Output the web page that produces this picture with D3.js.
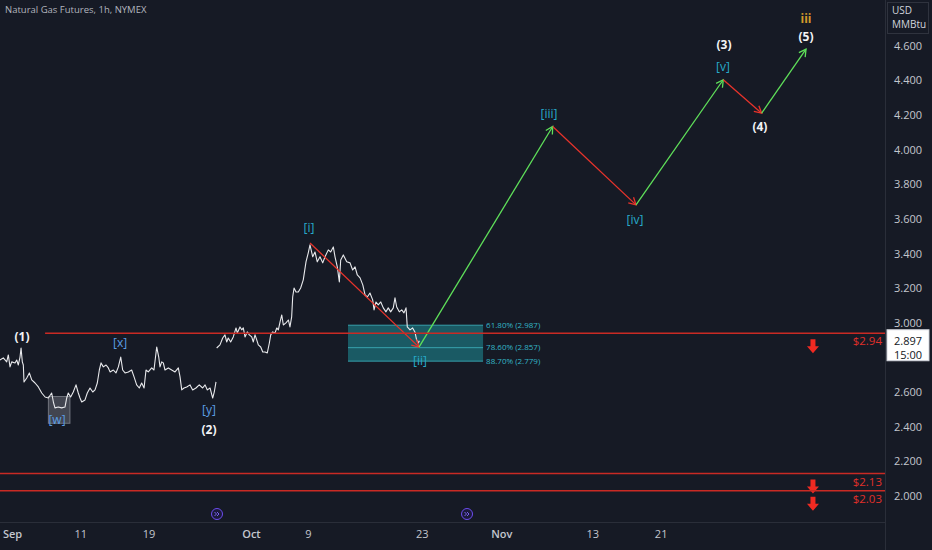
<!DOCTYPE html>
<html><head><meta charset="utf-8">
<script src="https://cdnjs.cloudflare.com/ajax/libs/d3/7.8.5/d3.min.js"></script>
<style>
html,body{margin:0;padding:0;background:#161a25;}
svg{display:block;}
text{font-family:"Open Sans","DejaVu Sans",sans-serif;}
</style></head>
<body>
<svg id="c" width="932" height="550"></svg>
<script>
// ---------- DATA ----------
const title = "Natural Gas Futures, 1h, NYMEX";
const tickDays = [0, 6, 12, 21, 26, 36, 43, 51, 57];
const tickLabels = ["Sep", "11", "19", "Oct", "9", "23", "Nov", "13", "21"];
const priceTicks = [2.0, 2.2, 2.4, 2.6, 2.8, 3.0, 3.2, 3.4, 3.6, 3.8, 4.0, 4.2, 4.4, 4.6];

// price line (trading-day index since Sep 1, price)
const seg1Days = [-1.10,-0.81,-0.51,-0.37,-0.22,-0.07,0.22,0.37,0.51,0.66,0.75,0.86,0.95,1.01,1.25,1.48,1.69,1.98,2.27,2.57,2.86,3.15,3.44,3.59,3.73,4.02,4.32,4.61,4.76,4.90,5.11,5.34,5.58,5.78,5.93,6.08,6.37,6.57,6.81,7.05,7.25,7.45,7.63,7.78,7.98,8.22,8.42,8.57,8.86,9.09,9.30,9.51,9.68,9.89,10.18,10.47,10.68,10.91,11.14,11.35,11.56,11.73,11.93,12.23,12.43,12.67,12.85,12.96,13.11,13.25,13.40,13.69,13.99,14.28,14.57,14.72,14.87,15.07,15.31,15.60,15.83,16.12,16.41,16.71,16.92,17.12,17.36,17.59,17.73,17.88];
const seg1Prices = [2.786,2.798,2.775,2.815,2.746,2.775,2.769,2.786,2.757,2.803,2.855,2.775,2.757,2.659,2.682,2.711,2.671,2.653,2.630,2.595,2.572,2.566,2.595,2.543,2.509,2.514,2.509,2.514,2.566,2.595,2.572,2.601,2.642,2.595,2.566,2.543,2.555,2.595,2.624,2.601,2.613,2.653,2.728,2.769,2.746,2.757,2.740,2.717,2.728,2.711,2.746,2.803,2.728,2.711,2.717,2.728,2.688,2.642,2.624,2.653,2.624,2.728,2.717,2.740,2.728,2.861,2.803,2.746,2.775,2.769,2.728,2.740,2.728,2.717,2.740,2.688,2.613,2.624,2.630,2.642,2.613,2.624,2.642,2.624,2.642,2.613,2.624,2.566,2.601,2.659];
const seg2Days = [17.94,18.23,18.47,18.67,18.82,18.96,19.17,19.40,19.64,19.75,19.99,20.14,20.28,20.43,20.63,20.81,21.02,21.16,21.31,21.46,21.60,21.81,21.99,22.19,22.39,22.57,22.69,22.86,23.07,23.22,23.36,23.51,23.66,23.80,24.03,24.24,24.38,24.53,24.62,24.74,24.91,25.11,25.32,25.55,25.79,25.99,26.14,26.38,26.58,26.78,27.02,27.26,27.46,27.75,27.96,28.19,28.34,28.54,28.72,28.84,29.07,29.37,29.66,29.89,30.10,30.30,30.54,30.78,30.98,31.18,31.41,31.65,31.77,31.94,32.14,32.36,32.58,32.82,33.02,33.23,33.46,33.61,33.76,33.99,34.20,34.40,34.58,34.69,34.93,35.16,35.36,35.51,35.66,35.75];
const seg2Prices = [2.855,2.873,2.913,2.931,2.890,2.913,2.890,2.919,2.971,2.942,2.977,2.960,2.971,2.919,2.948,2.931,2.919,2.890,2.931,2.902,2.873,2.861,2.832,2.832,2.827,2.884,2.931,2.948,2.942,2.971,2.960,3.006,3.046,2.988,3.000,3.017,2.977,3.035,3.150,3.202,3.179,3.179,3.202,3.249,3.353,3.405,3.451,3.382,3.410,3.353,3.382,3.347,3.382,3.422,3.410,3.439,3.382,3.324,3.237,3.364,3.393,3.353,3.347,3.306,3.324,3.277,3.260,3.220,3.162,3.150,3.173,3.133,3.075,3.121,3.104,3.121,3.087,3.064,3.087,3.064,3.087,3.145,3.092,3.064,3.075,3.058,3.087,2.977,2.960,2.971,2.948,2.902,2.884,2.897];
const lastPrice = "2.897";
const lastTime = "15:00";

// Elliott wave projection
const waveDays   = [26.14, 35.72, 47.47, 54.79, 62.46, 65.83, 69.73];
const wavePrices = [3.462, 2.860, 4.135, 3.682, 4.405, 4.212, 4.582];

// wave labels
const labelTexts  = ["(1)","[w]","[x]","[y]","(2)","[i]","[ii]","[iii]","[iv]","[v]","(3)","(4)","(5)","iii"];
const labelDays   = [0.83, 3.91, 9.45, 17.27, 17.27, 26.05, 35.81, 47.14, 54.70, 62.43, 62.52, 65.68, 69.73, 69.73];
const labelPrices = [2.919, 2.439, 2.884, 2.497, 2.382, 3.549, 2.780, 4.208, 3.595, 4.480, 4.607, 4.133, 4.653, 4.757];
const labelKinds  = ["major","minorB","minorB","minorB","major","minor","minor","minor","minor","minor","major","major","major","inter"];

// [w] box
const wBoxDays = [3.15, 5.05];
const wBoxPrices = [2.575, 2.42];

// Fibonacci retracement zone
const fibNames  = ["61.80%", "78.60%", "88.70%"];
const fibPrices = [2.987, 2.857, 2.779];
const fibDays   = [29.48, 41.35];

// support / resistance levels
const levelPrices = [2.94, 2.13, 2.03];
const levelStartDays = [2.86, -1.10, -1.10];
const levelLabels = ["$2.94", "$2.13", "$2.03"];
const arrowDay = 70.34;

// event icons on time axis
const eventDays = [17.97, 39.94];

// ---------- CHART ----------
const W = 932, H = 550;
const plotRight = 885, axisTop = 522;
const svg = d3.select("#c");
const x = d3.scaleLinear().domain([-1.10, 76.67]).range([0, plotRight]);
const y = d3.scaleLinear().domain([2.0, 4.6]).range([496, 46]);

svg.append("rect").attr("width", W).attr("height", H).attr("fill", "#161a25");

svg.append("clipPath").attr("id","plot").append("rect").attr("x",0).attr("y",0).attr("width",plotRight).attr("height",axisTop);

// axis separators
svg.append("line").attr("x1",0).attr("x2",plotRight).attr("y1",axisTop+0.5).attr("y2",axisTop+0.5).attr("stroke","#2a2e39");
svg.append("line").attr("x1",plotRight+0.5).attr("x2",plotRight+0.5).attr("y1",0).attr("y2",H).attr("stroke","#2a2e39");

const g = svg.append("g").attr("clip-path","url(#plot)");

// Fib zone
g.append("rect")
  .attr("x", x(fibDays[0])).attr("width", x(fibDays[1]) - x(fibDays[0]))
  .attr("y", y(fibPrices[0])).attr("height", y(fibPrices[2]) - y(fibPrices[0]))
  .attr("fill", "#1c6a74").attr("fill-opacity", 0.8);
g.selectAll(".fibl").data(fibPrices).join("line")
  .attr("x1", x(fibDays[0])).attr("x2", x(fibDays[1]))
  .attr("y1", d => y(d)).attr("y2", d => y(d))
  .attr("stroke", "#3fb7c2").attr("stroke-width", 1).attr("opacity", 0.8);
svg.selectAll(".fibt").data(fibPrices).join("text")
  .attr("x", x(fibDays[1]) + 3).attr("y", d => y(d))
  .attr("dy", "0.35em").attr("font-size", 8).attr("fill", "#34b6c6")
  .text((d, i) => `${fibNames[i]} (${d.toFixed(3)})`);

// [w] box
g.append("rect")
  .attr("x", x(wBoxDays[0])).attr("width", x(wBoxDays[1]) - x(wBoxDays[0]))
  .attr("y", y(wBoxPrices[0])).attr("height", y(wBoxPrices[1]) - y(wBoxPrices[0]))
  .attr("fill", "#9598a1").attr("fill-opacity", 0.35)
  .attr("stroke", "#b2b5be").attr("stroke-opacity", 0.5);

// levels
levelPrices.forEach((p, i) => {
  svg.append("line")
    .attr("x1", x(levelStartDays[i])).attr("x2", plotRight)
    .attr("y1", y(p)).attr("y2", y(p))
    .attr("stroke", "#c92a24").attr("stroke-width", 1.4);
  svg.append("text").attr("x", plotRight - 3).attr("y", y(p) + 12)
    .attr("text-anchor", "end").attr("font-size", 11.5).attr("fill", "#e0302a")
    .text(levelLabels[i]);
  const ax = x(arrowDay), ay = y(p) + 6;
  svg.append("path")
    .attr("d", `M${ax-2.5},${ay} h5 v7 h3.5 l-6,7 l-6,-7 h3.5 z`)
    .attr("fill", "#f02a22");
});

// price line
const line = d3.line().x(d => x(d[0])).y(d => y(d[1]));
[[seg1Days, seg1Prices], [seg2Days, seg2Prices]].forEach(([ds, ps]) => {
  g.append("path").datum(ds.map((d, i) => [d, ps[i]]))
    .attr("d", line).attr("fill", "none")
    .attr("stroke", "#e8e9ec").attr("stroke-width", 1.1).attr("stroke-linejoin", "round");
});

// wave arrows
function arrow(x1, y1, x2, y2, color) {
  g.append("line").attr("x1", x1).attr("y1", y1).attr("x2", x2).attr("y2", y2)
    .attr("stroke", color).attr("stroke-width", 1.3);
  const ang = Math.atan2(y2 - y1, x2 - x1), L = 8, a = 0.5;
  const p1 = [x2 - L*Math.cos(ang - a), y2 - L*Math.sin(ang - a)];
  const p2 = [x2 - L*Math.cos(ang + a), y2 - L*Math.sin(ang + a)];
  g.append("path").attr("d", `M${p1[0]},${p1[1]} L${x2},${y2} L${p2[0]},${p2[1]}`)
    .attr("fill", "none").attr("stroke", color).attr("stroke-width", 1.3);
}
for (let i = 0; i < waveDays.length - 1; i++) {
  const up = wavePrices[i+1] > wavePrices[i];
  arrow(x(waveDays[i]), y(wavePrices[i]), x(waveDays[i+1]), y(wavePrices[i+1]), up ? "#5fe05a" : "#e8332b");
}

// wave labels
const kindColor = {major: "#f2f3f5", minor: "#27aacb", minorB: "#5b9ee6", inter: "#d39a2a"};
const kindWeight = {major: 700, minor: 400, minorB: 400, inter: 700};
svg.selectAll(".wl").data(labelTexts).join("text")
  .attr("x", (d, i) => x(labelDays[i])).attr("y", (d, i) => y(labelPrices[i]))
  .attr("text-anchor", "middle").attr("dy", "0.35em")
  .attr("font-size", 12).attr("font-weight", (d, i) => kindWeight[labelKinds[i]])
  .attr("fill", (d, i) => kindColor[labelKinds[i]])
  .text(d => d);

// event icons
eventDays.forEach(d => {
  const cx = x(d), cy = 514;
  svg.append("circle").attr("cx", cx).attr("cy", cy).attr("r", 5.5)
    .attr("fill", "#1c1a3a").attr("stroke", "#6c4cf0").attr("stroke-width", 1);
  svg.append("path").attr("d", `M${cx-2.5},${cy-2} l2,2 l-2,2 M${cx},${cy-2} l2,2 l-2,2`)
    .attr("fill", "none").attr("stroke", "#7f66ff").attr("stroke-width", 0.9);
});

// title
svg.append("text").attr("x", 5).attr("y", 13).attr("font-size", 9.5).attr("fill", "#b2b5be").text(title);

// x axis labels
svg.selectAll(".xt").data(tickDays).join("text")
  .attr("x", d => x(d)).attr("y", 538).attr("text-anchor", "middle")
  .attr("font-size", 11).attr("fill", "#c3c6ce")
  .attr("font-weight", (d, i) => isNaN(+tickLabels[i]) ? 600 : 400)
  .text((d, i) => tickLabels[i]);

// y axis labels (hide the one under the last-price tag)
const ly = y(+lastPrice);
svg.selectAll(".yt").data(priceTicks.filter(d => Math.abs(y(d) - (ly + 7)) > 18)).join("text")
  .attr("x", 908).attr("y", d => y(d)).attr("dy", "0.35em").attr("text-anchor", "middle")
  .attr("font-size", 11).attr("fill", "#c3c6ce")
  .text(d => d3.format(".3f")(d));

// currency box
svg.append("rect").attr("x", 887.5).attr("y", 2.5).attr("width", 41).attr("height", 31)
  .attr("fill", "#161a25").attr("stroke", "#2f333e");
svg.append("text").attr("x", 892).attr("y", 14).attr("font-size", 10).attr("fill", "#d1d4dc").text("USD");
svg.append("text").attr("x", 892).attr("y", 28).attr("font-size", 10).attr("fill", "#d1d4dc").text("MMBtu");

// last price label
svg.append("rect").attr("x", 887).attr("y", ly - 11).attr("width", 42).attr("height", 31)
  .attr("fill", "#ffffff").attr("stroke", "#d1d4dc");
svg.append("text").attr("x", 908).attr("y", ly + 0.5).attr("dy", "0.35em").attr("text-anchor", "middle")
  .attr("font-size", 11).attr("fill", "#131722").text(lastPrice);
svg.append("text").attr("x", 908).attr("y", ly + 14).attr("dy", "0.35em").attr("text-anchor", "middle")
  .attr("font-size", 11).attr("fill", "#131722").text(lastTime);
</script>
</body></html>
